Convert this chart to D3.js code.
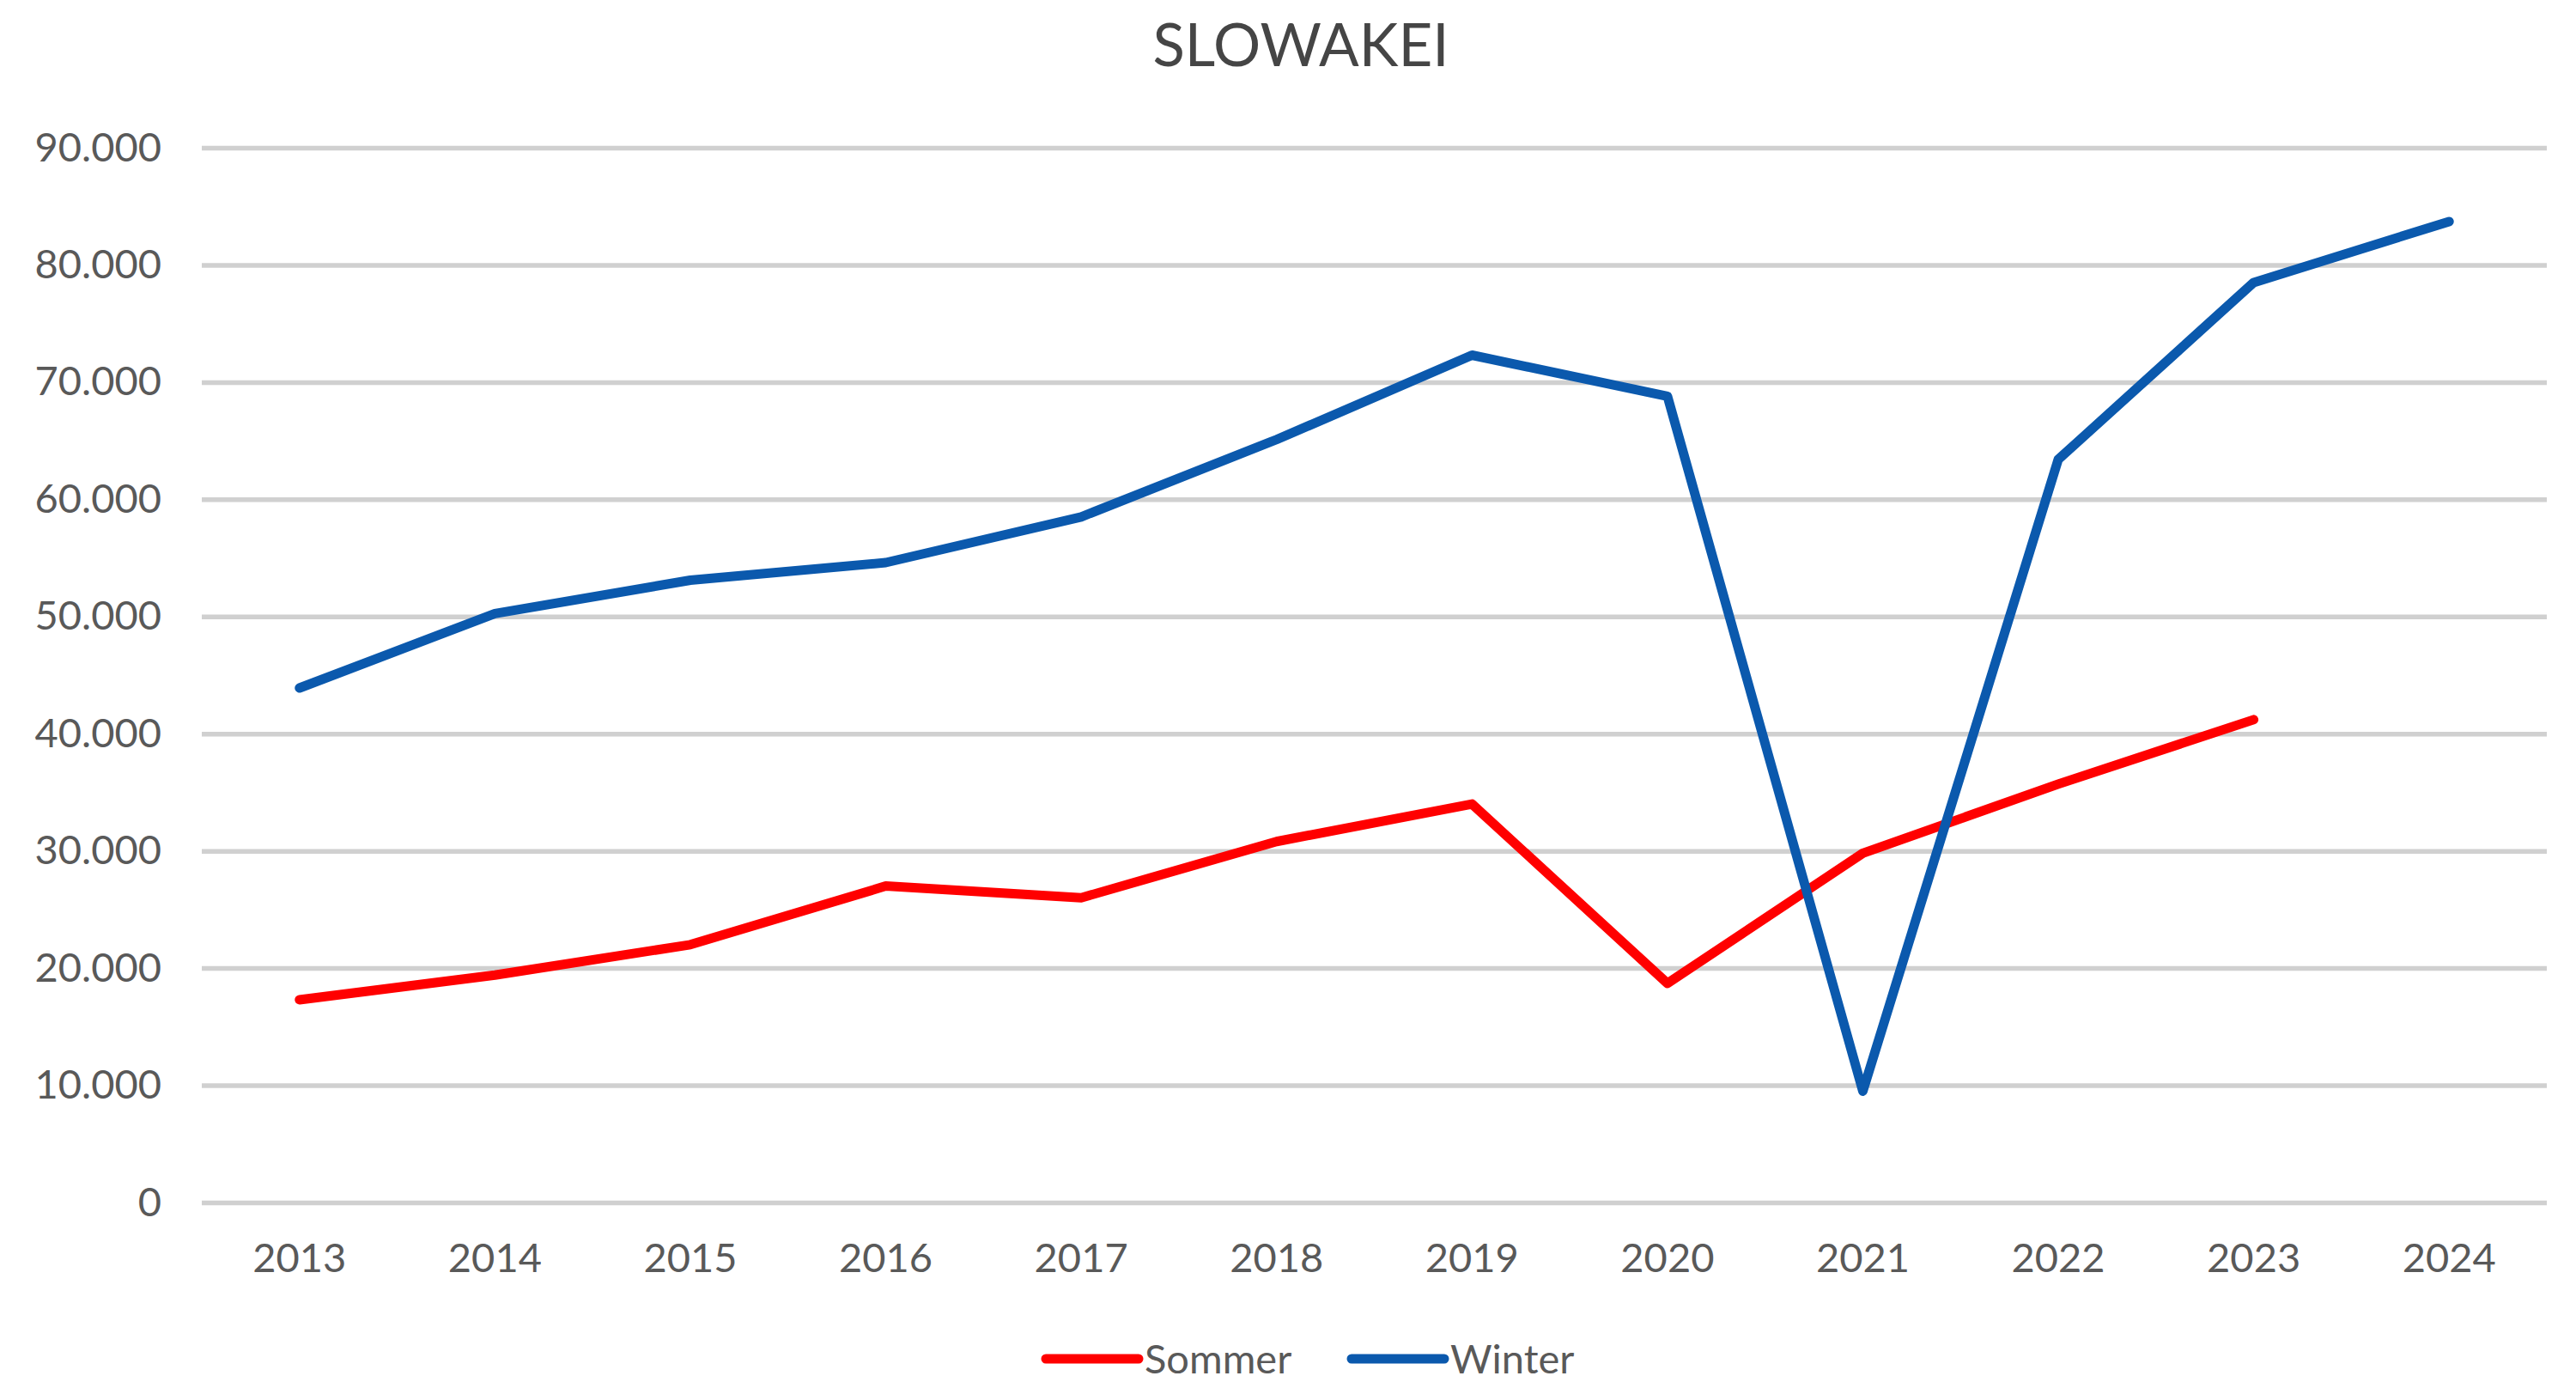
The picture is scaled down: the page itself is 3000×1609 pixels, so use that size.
<!DOCTYPE html>
<html>
<head>
<meta charset="utf-8">
<script src="https://cdn.jsdelivr.net/npm/d3@7"></script>
<style>
  body { margin: 0; background: #fff; }
  text { font-family: Lato, "Open Sans", sans-serif; }
</style>
</head>
<body>
<svg id="chart" width="3000" height="1609"></svg>
<script>
// data
var years = ['2013','2014','2015','2016','2017','2018','2019','2020','2021','2022','2023','2024'];
var sommer = [17300, 19400, 22000, 27000, 26000, 30800, 34000, 18700, 29800, 35700, 41200, null];
var winter = [43900, 50250, 53100, 54600, 58500, 65100, 72300, 68800, 9500, 63400, 78500, 83700];
var yTicks = [0, 10000, 20000, 30000, 40000, 50000, 60000, 70000, 80000, 90000];
var series = [
    {name: 'Sommer', values: sommer, color: '#ff0000'},
    {name: 'Winter', values: winter, color: '#0b59ad'}
];

var W = 3000, H = 1609;
var margin = {left: 235, right: 34, top: 172, bottom: 209};

var svg = d3.select('#chart');

var x = d3.scaleBand()
    .domain(years)
    .range([margin.left, W - margin.right])
    .padding(0);
var y = d3.scaleLinear()
    .domain([0, 90000])
    .range([H - margin.bottom, margin.top]);

var de = d3.formatLocale({decimal: ',', thousands: '.', grouping: [3], currency: ['', '€']});
var fmt = de.format(',');

// title
svg.append('text')
    .attr('x', 1515)
    .attr('y', 77)
    .attr('text-anchor', 'middle')
    .attr('font-size', 69)
    .attr('fill', '#454545')
    .text('SLOWAKEI');

// y axis with gridlines
var yAxis = svg.append('g')
    .attr('transform', 'translate(' + margin.left + ',0)')
    .call(d3.axisLeft(y)
        .tickValues(yTicks)
        .tickFormat(fmt)
        .tickSize(-(W - margin.left - margin.right))
        .tickPadding(47));
yAxis.select('.domain').remove();
yAxis.selectAll('.tick line')
    .attr('stroke', '#d0d0d0')
    .attr('stroke-width', 5.5);
yAxis.selectAll('.tick text')
    .attr('font-size', 47)
    .attr('fill', '#595959')
    .attr('font-family', 'Lato, "Open Sans", sans-serif');

// x axis labels
var xAxis = svg.append('g')
    .attr('transform', 'translate(0,' + (H - margin.bottom) + ')')
    .call(d3.axisBottom(x).tickSize(0).tickPadding(48));
xAxis.select('.domain').remove();
xAxis.selectAll('.tick text')
    .attr('font-size', 47)
    .attr('fill', '#595959')
    .attr('font-family', 'Lato, "Open Sans", sans-serif');

// lines
var line = d3.line()
    .defined(function(d){ return d != null; })
    .x(function(d, i){ return x(years[i]) + x.bandwidth() / 2; })
    .y(function(d){ return y(d); });

svg.append('g')
    .selectAll('path')
    .data(series)
    .enter()
    .append('path')
    .attr('d', function(s){ return line(s.values); })
    .attr('fill', 'none')
    .attr('stroke', function(s){ return s.color; })
    .attr('stroke-width', 11)
    .attr('stroke-linejoin', 'round')
    .attr('stroke-linecap', 'round');

// legend
var legendX = [1213, 1569];
var legend = svg.append('g')
    .selectAll('g')
    .data(series)
    .enter()
    .append('g')
    .attr('transform', function(d, i){ return 'translate(' + legendX[i] + ',1582)'; });
legend.append('line')
    .attr('x1', 5).attr('x2', 113)
    .attr('y1', 0).attr('y2', 0)
    .attr('stroke', function(d){ return d.color; })
    .attr('stroke-width', 11)
    .attr('stroke-linecap', 'round');
legend.append('text')
    .attr('x', 120)
    .attr('y', 0)
    .attr('dy', '0.36em')
    .attr('font-size', 47)
    .attr('fill', '#595959')
    .text(function(d){ return d.name; });
</script>
</body>
</html>
